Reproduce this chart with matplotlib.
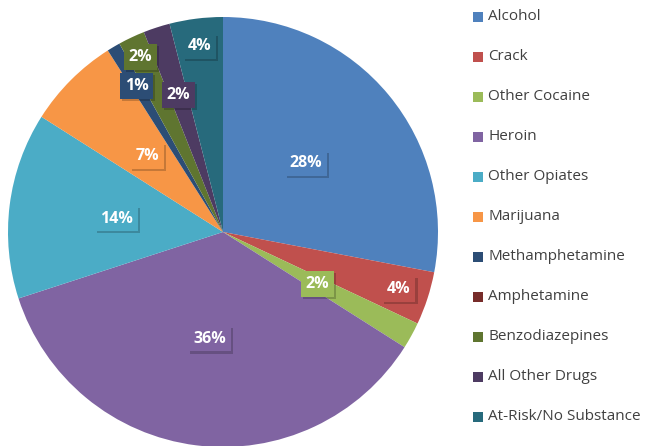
import numpy as np
import matplotlib
matplotlib.use('Agg')
import matplotlib.pyplot as plt
import matplotlib.patches as mpatches
import matplotlib.patheffects as pe

categories = ['Alcohol', 'Crack', 'Other Cocaine', 'Heroin', 'Other Opiates',
              'Marijuana', 'Methamphetamine', 'Amphetamine', 'Benzodiazepines',
              'All Other Drugs', 'At-Risk/No Substance']
shares = [28, 4, 2, 36, 14, 7, 1, 0, 2, 2, 4]
colors = ['#4F81BD', '#C0504D', '#9BBB59', '#8064A2', '#4BACC6', '#F79646',
          '#2C4D75', '#772C2A', '#5F7530', '#4D3B62', '#276A7C']

# how far out each percent label sits (fraction of radius), small ones moved out
label_r = [0.5, 0.86, 0.5, 0.5, 0.5, 0.5, 0.79, None, 0.9, 0.67, 0.87]

plt.rcParams['font.family'] = ['Open Sans', 'DejaVu Sans']

fig = plt.figure(figsize=(6.5, 4.46), dpi=100)
ax = fig.add_axes([8/650, -1/446, 430/650, 430/446])

wedges, _ = ax.pie(shares, colors=colors, startangle=90, counterclock=False,
                   wedgeprops=dict(linewidth=0))
ax.set_aspect('equal')
ax.set_xlim(-1, 1)
ax.set_ylim(-1, 1)

for w, s, r in zip(wedges, shares, label_r):
    if r is None or s == 0:
        continue
    mid = np.deg2rad((w.theta1 + w.theta2) / 2)
    t = ax.text(r*np.cos(mid), r*np.sin(mid), '%d%%' % s, ha='center', va='center',
                color='white', fontsize=11.5, fontweight='bold',
                bbox=dict(boxstyle='square,pad=0.3', fc=w.get_facecolor(), ec='none'))
    t.get_bbox_patch().set_path_effects([pe.SimplePatchShadow(offset=(1.5, -1.5),
                                         shadow_rgbFace='k', alpha=0.2), pe.Normal()])

# legend
for i, (lab, c) in enumerate(zip(categories, colors)):
    yc = 1 - (17 + 40*i) / 446
    fig.patches.append(mpatches.Rectangle((473/650, yc - 5/446), 10/650, 10/446,
                                          transform=fig.transFigure, fc=c, ec='none'))
    fig.text(488/650, yc, lab, ha='left', va='center', fontsize=11, color='#404040')

fig.savefig('out.png', dpi=100)
